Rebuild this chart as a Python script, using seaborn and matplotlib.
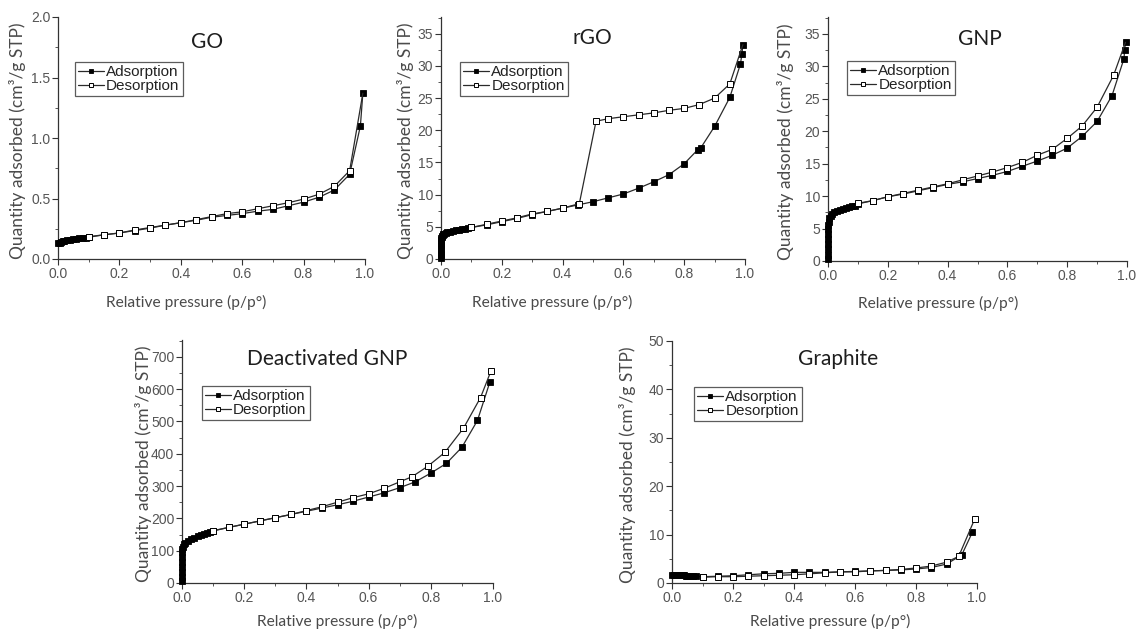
import matplotlib
matplotlib.use("Agg")
import matplotlib.pyplot as plt
import seaborn as sns
import pandas as pd
from matplotlib.ticker import MultipleLocator, AutoMinorLocator

# ---------------- data ----------------
go_ads_p = [0.001, 0.005, 0.01, 0.015, 0.02, 0.03, 0.04, 0.05, 0.06, 0.07, 0.08, 0.09,
            0.1, 0.15, 0.2, 0.25, 0.3, 0.35, 0.4, 0.45, 0.5, 0.55, 0.6, 0.65, 0.7, 0.75,
            0.8, 0.85, 0.9, 0.95, 0.985, 0.993]
go_ads_q = [0.13, 0.135, 0.14, 0.145, 0.15, 0.155, 0.16, 0.163, 0.166, 0.17, 0.173, 0.176,
            0.18, 0.20, 0.215, 0.235, 0.255, 0.28, 0.30, 0.32, 0.345, 0.36, 0.375, 0.395,
            0.41, 0.44, 0.47, 0.51, 0.57, 0.70, 1.10, 1.37]
go_des_p = [0.993, 0.95, 0.9, 0.85, 0.8, 0.75, 0.7, 0.65, 0.6, 0.55, 0.5, 0.45, 0.4,
            0.35, 0.3, 0.25, 0.2, 0.15, 0.1]
go_des_q = [1.37, 0.73, 0.60, 0.535, 0.495, 0.465, 0.44, 0.415, 0.39, 0.375, 0.35, 0.325,
            0.30, 0.28, 0.26, 0.24, 0.215, 0.20, 0.185]

rgo_ads_p = [0.0001, 0.0002, 0.0003, 0.0004, 0.0005, 0.0007, 0.001, 0.0015, 0.002, 0.003,
             0.005, 0.007, 0.01, 0.015, 0.02, 0.03, 0.04, 0.05, 0.06, 0.07, 0.08, 0.09,
             0.1, 0.15, 0.2, 0.25, 0.3, 0.35, 0.4, 0.45, 0.5, 0.55, 0.6, 0.65, 0.7, 0.75,
             0.8, 0.845, 0.855, 0.9, 0.95, 0.985, 0.99, 0.993]
rgo_ads_q = [0.2, 0.6, 1.0, 1.5, 2.0, 2.5, 2.9, 3.2, 3.4, 3.6, 3.75, 3.85, 3.95, 4.05,
             4.15, 4.25, 4.35, 4.45, 4.5, 4.6, 4.65, 4.75,
             4.9, 5.3, 5.8, 6.3, 6.9, 7.4, 7.9, 8.4, 8.9, 9.5, 10.1, 11.0, 12.0, 13.1,
             14.8, 17.0, 17.3, 20.6, 25.1, 30.3, 31.9, 33.3]
rgo_des_p = [0.993, 0.95, 0.9, 0.85, 0.8, 0.75, 0.7, 0.65, 0.6, 0.55, 0.51, 0.455, 0.4,
             0.35, 0.3, 0.25, 0.2, 0.15, 0.1]
rgo_des_q = [33.3, 27.2, 25.0, 24.0, 23.4, 23.1, 22.7, 22.4, 22.1, 21.8, 21.4, 8.6, 7.9,
             7.4, 7.0, 6.4, 5.9, 5.4, 4.9]

gnp_ads_p = [0.0001, 0.0002, 0.0003, 0.0004, 0.0005, 0.0007, 0.001, 0.0015, 0.002, 0.005,
             0.01, 0.015, 0.02, 0.03, 0.04, 0.05, 0.06, 0.07, 0.08, 0.09,
             0.1, 0.15, 0.2, 0.25, 0.3, 0.35, 0.4, 0.45, 0.5, 0.55, 0.6, 0.65, 0.7, 0.75,
             0.8, 0.85, 0.9, 0.95, 0.99, 0.992, 0.995]
gnp_ads_q = [0.3, 1.0, 1.8, 2.6, 3.4, 4.2, 5.0, 5.5, 6.0, 6.6,
             7.0, 7.3, 7.5, 7.7, 7.9, 8.0, 8.15, 8.3, 8.4, 8.55,
             8.8, 9.3, 9.9, 10.3, 10.8, 11.3, 11.8, 12.2, 12.7, 13.2, 13.8, 14.6, 15.4, 16.3,
             17.4, 19.2, 21.5, 25.5, 31.2, 32.5, 33.7]
gnp_des_p = [0.995, 0.955, 0.9, 0.85, 0.8, 0.75, 0.7, 0.65, 0.6, 0.55, 0.5, 0.45, 0.4,
             0.35, 0.3, 0.25, 0.2, 0.15, 0.1]
gnp_des_q = [33.7, 28.6, 23.7, 20.8, 18.9, 17.2, 16.3, 15.2, 14.4, 13.7, 13.1, 12.5, 11.9,
             11.4, 10.9, 10.4, 9.9, 9.3, 8.9]

dgnp_ads_p = [0.0001, 0.0002, 0.0003, 0.0004, 0.0005, 0.0007, 0.001, 0.0015, 0.002, 0.005,
              0.01, 0.02, 0.03, 0.04, 0.05, 0.06, 0.07, 0.08, 0.09,
              0.1, 0.15, 0.2, 0.25, 0.3, 0.35, 0.4, 0.45, 0.5, 0.55, 0.6, 0.65, 0.7, 0.75,
              0.8, 0.85, 0.9, 0.95, 0.99]
dgnp_ads_q = [5, 20, 35, 50, 65, 80, 95, 105, 112, 120,
              125, 131, 136, 140, 144, 148, 151, 154, 157,
              161, 172, 182, 192, 202, 212, 222, 232, 242, 253, 266, 279, 295, 313,
              340, 370, 420, 503, 622]
dgnp_des_p = [0.993, 0.96, 0.905, 0.845, 0.79, 0.74, 0.7, 0.65, 0.6, 0.55, 0.5, 0.45, 0.4,
              0.35, 0.3, 0.25, 0.2, 0.15, 0.1]
dgnp_des_q = [655, 574, 479, 404, 361, 329, 313, 293, 276, 264, 250, 236, 224, 212, 202,
              192, 182, 172, 162]

gr_ads_p = [0.001, 0.005, 0.01, 0.015, 0.02, 0.025, 0.03, 0.035, 0.04, 0.045, 0.05, 0.06,
            0.07, 0.08, 0.1, 0.15, 0.2, 0.25, 0.3, 0.35, 0.4, 0.45, 0.5, 0.55, 0.6, 0.65,
            0.7, 0.75, 0.8, 0.85, 0.9, 0.95, 0.985]
gr_ads_q = [1.6, 1.6, 1.6, 1.6, 1.6, 1.6, 1.55, 1.55, 1.55, 1.5, 1.5, 1.45, 1.4, 1.35,
            1.3, 1.4, 1.5, 1.7, 1.9, 2.0, 2.2, 2.2, 2.2, 2.3, 2.4, 2.5, 2.6, 2.7, 2.9, 3.2,
            3.9, 5.8, 10.5]
gr_des_p = [0.993, 0.94, 0.9, 0.85, 0.8, 0.75, 0.7, 0.65, 0.6, 0.55, 0.5, 0.45, 0.4, 0.35,
            0.3, 0.25, 0.2, 0.15, 0.1]
gr_des_q = [13.3, 5.5, 4.3, 3.5, 3.1, 2.8, 2.6, 2.5, 2.3, 2.3, 2.1, 1.9, 1.7, 1.6, 1.5,
            1.4, 1.3, 1.3, 1.2]

titles = ["GO", "rGO", "GNP", "Deactivated GNP", "Graphite"]
xlabel = "Relative pressure (p/p°)"
ylabel = "Quantity adsorbed (cm³/g STP)"
series_labels = ["Adsorption", "Desorption"]

# ---------------- style ----------------
sns.set_style("ticks")
plt.rcParams["font.family"] = ["Liberation Sans", "DejaVu Sans"]

W, H = 1141, 632
fig = plt.figure(figsize=(W / 100, H / 100), dpi=100)


def make_ax(left, right, top, bottom):
    return fig.add_axes([left / W, 1 - bottom / H, (right - left) / W, (bottom - top) / H])


panels = [
    # (box px, ylim, ymajor, data, title pos, legend pos, xlabel x, xlabel px below, ylabel px left, skip)
    ((58, 365, 17, 259), (0, 2.0), 0.5, (go_ads_p, go_ads_q, go_des_p, go_des_q),
     (0.485, 0.897), (0.055, 0.814), 0.416, 43, 40, True),
    ((441, 745, 17, 259), (0, 37.6), 5, (rgo_ads_p, rgo_ads_q, rgo_des_p, rgo_des_q),
     (0.497, 0.913), (0.0625, 0.814), 0.366, 43, 36, True),
    ((828, 1127, 17, 261), (0, 37.6), 5, (gnp_ads_p, gnp_ads_q, gnp_des_p, gnp_des_q),
     (0.508, 0.91), (0.064, 0.82), 0.37, 42, 43, True),
    ((182, 493, 340, 583), (0, 752), 100, (dgnp_ads_p, dgnp_ads_q, dgnp_des_p, dgnp_des_q),
     (0.466, 0.92), (0.064, 0.81), 0.50, 38, 39, False),
    ((672, 977, 341, 583), (0, 50), 10, (gr_ads_p, gr_ads_q, gr_des_p, gr_des_q),
     (0.544, 0.925), (0.072, 0.81), 0.52, 38, 45, False),
]

line_col = "#2a2a2a"
tick_col = "#555555"
label_col = "#4a4a4a"

for i, (box, ylim, ymaj, data, tpos, lpos, xlx, xoff, yoff, skip) in enumerate(panels):
    ax = make_ax(*box)
    ax_w = box[1] - box[0]
    ax_h = box[3] - box[2]
    ap, aq, dp, dq = data
    df_a = pd.DataFrame({"p": ap, "q": aq})
    df_d = pd.DataFrame({"p": dp, "q": dq})
    sns.lineplot(data=df_a, x="p", y="q", ax=ax, sort=False, estimator=None,
                 color=line_col, lw=0.9, marker="s", markersize=4.8,
                 markerfacecolor="black", markeredgecolor="black", markeredgewidth=0.6,
                 label=series_labels[0], clip_on=False, zorder=3)
    mev = list(range(1, len(dp))) if skip else None
    sns.lineplot(data=df_d, x="p", y="q", ax=ax, sort=False, estimator=None,
                 color=line_col, lw=0.9, marker="s", markersize=4.8,
                 markerfacecolor="white", markeredgecolor="black", markeredgewidth=0.7,
                 markevery=mev, label=series_labels[1], clip_on=False, zorder=4)

    ax.set_xlim(0, 1.0)
    ax.set_ylim(*ylim)
    ax.xaxis.set_major_locator(MultipleLocator(0.2))
    ax.xaxis.set_minor_locator(MultipleLocator(0.1))
    ax.yaxis.set_major_locator(MultipleLocator(ymaj))
    ax.yaxis.set_minor_locator(AutoMinorLocator(2))
    if i == 0:
        ax.yaxis.set_major_formatter(plt.FuncFormatter(lambda v, _: f"{v:.1f}"))
    ax.xaxis.set_major_formatter(plt.FuncFormatter(lambda v, _: f"{v:.1f}"))
    for sp in ["top", "right"]:
        ax.spines[sp].set_visible(False)
    for sp in ["left", "bottom"]:
        ax.spines[sp].set_color("#333333")
        ax.spines[sp].set_linewidth(0.9)
    ax.tick_params(which="major", length=4, width=0.8, color="#333333",
                   labelsize=10, labelcolor=tick_col, pad=1.5)
    ax.tick_params(which="minor", length=2.2, width=0.7, color="#555555")

    ax.set_xlabel("")
    ax.set_ylabel("")
    ax.text(xlx, -xoff / ax_h, xlabel, transform=ax.transAxes, ha="center", va="center",
            fontsize=11.2, color=label_col, family=["Lato", "DejaVu Sans"])
    ax.text(-yoff / ax_w, 0.49, ylabel, transform=ax.transAxes, ha="center", va="center",
            rotation=90, fontsize=12.5, color=label_col, family=["Lato", "DejaVu Sans"])
    ax.text(tpos[0], tpos[1], titles[i], transform=ax.transAxes, ha="center", va="center",
            fontsize=15, color="#1e1e1e", family=["Lato", "DejaVu Sans"])

    leg = ax.legend(loc="upper left", bbox_to_anchor=lpos, frameon=True, fancybox=False,
                    fontsize=11, handlelength=1.7, handletextpad=0.15, borderpad=0.2,
                    labelspacing=0.0, borderaxespad=0.0, markerscale=0.75)
    leg.get_frame().set_edgecolor("#333333")
    leg.get_frame().set_linewidth(0.9)
    for t in leg.get_texts():
        t.set_color("#222222")

fig.savefig("out.png", dpi=100)
